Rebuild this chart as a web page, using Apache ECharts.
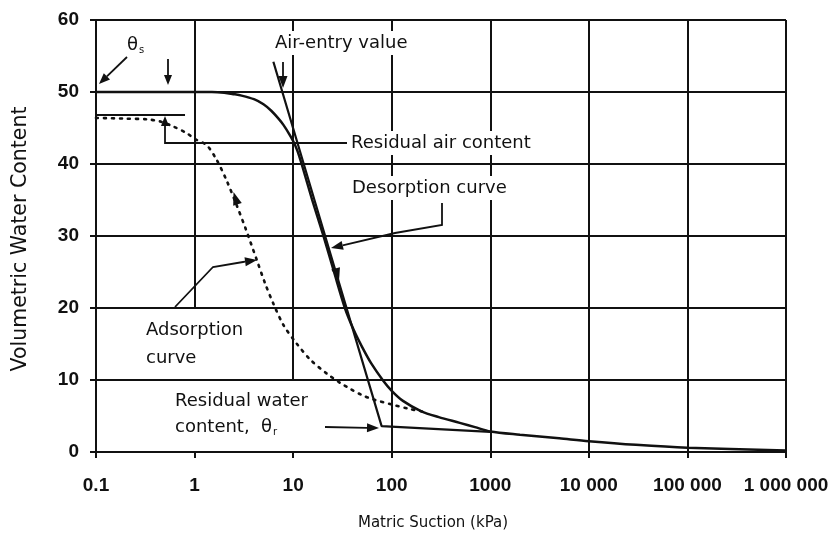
<!DOCTYPE html>
<html>
<head>
<meta charset="utf-8">
<script src="https://cdn.jsdelivr.net/npm/echarts@6/dist/echarts.min.js"></script>
<style>html,body{margin:0;background:#fff}#chart{width:834px;height:533px}</style>
</head>
<body>
<div id="chart"></div>
<script>
// axes
var suctionTickLabels = ['0.1', '1', '10', '100', '1000', '10 000', '100 000', '1 000 000'];
var waterMin = 0, waterMax = 60, waterStep = 10;

// vertical grid lines (decades) and the water content they start from
var decadeLines = [1, 10, 100, 1000, 10000, 100000, 1000000];
var decadeLineFrom = [20, 10, 0, 0, 0, 0, 0];

// desorption curve
var desorpSuction = [0.1, 1, 1.5, 2, 2.5, 3, 4, 5, 6, 7, 8, 9, 10, 11, 12.2, 15.6, 20.3, 26, 33.5, 41, 50, 62, 82, 100, 130, 200, 300, 490, 700, 1000, 2000, 5000, 10000, 30000, 100000, 1000000];
var desorpWater   = [50, 50, 50, 49.9, 49.7, 49.5, 49.0, 48.3, 47.4, 46.4, 45.4, 44.3, 43.2, 41.9, 40, 35, 30, 25, 20, 17, 14.6, 12.3, 9.9, 8.5, 7.1, 5.65, 4.85, 4.05, 3.45, 2.85, 2.4, 1.9, 1.5, 1.0, 0.6, 0.2];

// straight construction lines (air-entry tangent and residual line)
var tangentSuction = [6.3, 79, 1000];
var tangentWater   = [54.2, 3.6, 2.8];

// adsorption curve (dotted)
var adsorpSuction = [0.1, 0.2, 0.33, 0.45, 0.61, 0.83, 1.0, 1.33, 1.67, 2.1, 2.67, 3.3, 4.27, 5.2, 6.3, 8, 10.8, 15, 21.9, 30, 37.7, 50, 65, 100, 150, 210];
var adsorpWater   = [46.4, 46.3, 46.2, 45.9, 45.2, 44.3, 43.5, 42.6, 40.6, 37.8, 34.3, 31, 26.7, 23.4, 20.6, 17.6, 15.1, 12.8, 10.9, 9.6, 8.8, 7.9, 7.3, 6.6, 6.0, 5.6];

// short level line of the adsorption start
var adsorpLevelSuction = [0.1, 0.8];
var adsorpLevelWater   = [46.8, 46.8];

function zip(a, b) { return a.map(function (v, i) { return [v, b[i]]; }); }

var chart = echarts.init(document.getElementById('chart'));
var ink = '#111';
var fontAnno = '"DejaVu Sans", sans-serif';

// polyline with an arrow head at its last point
function arrow(pts, len, wid) {
    len = len || 11; wid = wid || 4.5;
    var n = pts.length, tip = pts[n - 1], prev = pts[n - 2];
    var dx = tip[0] - prev[0], dy = tip[1] - prev[1], d = Math.sqrt(dx * dx + dy * dy);
    var ux = dx / d, uy = dy / d;
    var base = [tip[0] - ux * len, tip[1] - uy * len];
    var line = pts.slice(0, n - 1).concat([base]);
    return [
        { type: 'polyline', shape: { points: line }, style: { stroke: ink, lineWidth: 1.8, fill: null } },
        { type: 'polygon', shape: { points: [tip, [base[0] - uy * wid, base[1] + ux * wid], [base[0] + uy * wid, base[1] - ux * wid]] }, style: { fill: ink } }
    ];
}
function label(x, y, text, extra) {
    var s = { text: text, fill: ink, font: '18px ' + fontAnno, align: 'left', verticalAlign: 'middle',
              backgroundColor: '#fff', padding: [3, 3] };
    for (var k in extra) s[k] = extra[k];
    return { type: 'text', x: x, y: y, z: 10, style: s };
}

var graphics = [];
graphics = graphics.concat(arrow([[127, 57], [99, 84]]));
graphics = graphics.concat(arrow([[168, 59], [168, 85]], 10, 4));
graphics = graphics.concat(arrow([[347, 143], [165, 143], [165, 116]], 10, 4));
graphics = graphics.concat(arrow([[283, 62], [283, 88]], 12, 4.5));
graphics = graphics.concat(arrow([[442, 203], [442, 225], [395, 233], [331, 248]], 12, 4.5));
graphics = graphics.concat(arrow([[175, 307], [213, 267], [243, 262], [257, 260]], 12, 4.5));
graphics = graphics.concat(arrow([[325, 427], [379, 428]], 12, 4.5));
// direction heads on the curves
graphics = graphics.concat(arrow([[335.5, 268], [339, 281]], 13, 4.5).slice(1));
graphics = graphics.concat(arrow([[238, 206], [233.5, 192]], 13, 4.5).slice(1));
graphics.push(
    { type: 'text', x: 127, y: 45, style: { text: 'θ{s|s}', fill: ink, font: '18px ' + fontAnno, verticalAlign: 'middle',
        rich: { s: { fontSize: 10, fontFamily: 'DejaVu Sans', padding: [10, 0, 0, 1] } } } },
    label(272, 43, 'Air-entry value'),
    label(348, 143, 'Residual air content'),
    label(349, 188, 'Desorption curve'),
    label(143, 330, 'Adsorption'),
    label(143, 358, 'curve', { backgroundColor: null }),
    label(172, 401, 'Residual water'),
    { type: 'text', x: 175, y: 427, z: 10, style: { text: 'content,  θ{r|r}', fill: ink, font: '18px ' + fontAnno, verticalAlign: 'middle',
        rich: { r: { fontSize: 10, fontFamily: 'DejaVu Sans', padding: [10, 0, 0, 1] } } } },
    { type: 'text', x: 21, y: 239, rotation: Math.PI / 2,
      style: { text: 'Volumetric Water Content', fill: ink, font: '20.5px ' + fontAnno, align: 'center', verticalAlign: 'middle' } },
    { type: 'text', x: 433, y: 523,
      style: { text: 'Matric Suction (kPa)', fill: ink, font: '15px ' + fontAnno, align: 'center', verticalAlign: 'middle' } }
);

var gridSegments = decadeLines.map(function (v, i) {
    return [{ coord: [v, decadeLineFrom[i]] }, { coord: [v, waterMax] }];
});

var option = {
    animation: false,
    backgroundColor: '#fff',
    grid: { left: 96, right: 48, top: 20, bottom: 81 },
    xAxis: {
        type: 'log', logBase: 10, min: 0.1, max: 1000000, splitNumber: 7,
        axisLine: { lineStyle: { color: ink, width: 2 } },
        axisTick: { length: 6, lineStyle: { color: ink, width: 2 } },
        splitLine: { show: false },
        axisLabel: {
            margin: 24, color: ink, fontSize: 19, fontWeight: 'bold', fontFamily: 'Liberation Sans, Arial',
            showMinLabel: true, showMaxLabel: true,
            formatter: function (v) { return suctionTickLabels[Math.round(Math.log10(v)) + 1]; }
        }
    },
    yAxis: {
        type: 'value', min: waterMin, max: waterMax, interval: waterStep,
        axisLine: { show: true, lineStyle: { color: ink, width: 2 } },
        axisTick: { show: true, length: 6, lineStyle: { color: ink, width: 2 } },
        splitLine: { lineStyle: { color: ink, width: 2 } },
        axisLabel: { margin: 17, color: ink, fontSize: 19, fontWeight: 'bold', fontFamily: 'Liberation Sans, Arial' }
    },
    series: [
        {
            name: 'grid', type: 'line', data: [], silent: true,
            markLine: { silent: true, symbol: 'none', label: { show: false },
                lineStyle: { color: ink, width: 2, type: 'solid' }, data: gridSegments }
        },
        {
            name: 'Desorption curve', type: 'line', data: zip(desorpSuction, desorpWater),
            smooth: 0.3, showSymbol: false, z: 5,
            lineStyle: { color: ink, width: 2.5 }
        },
        {
            name: 'Tangent', type: 'line', data: zip(tangentSuction, tangentWater),
            showSymbol: false, z: 5, lineStyle: { color: ink, width: 2.2 }
        },
        {
            name: 'Adsorption curve', type: 'line', data: zip(adsorpSuction, adsorpWater),
            smooth: 0.3, showSymbol: false, z: 5,
            lineStyle: { color: ink, width: 2.6, type: [2, 6], cap: 'round' }
        },
        {
            name: 'Adsorption level', type: 'line', data: zip(adsorpLevelSuction, adsorpLevelWater),
            showSymbol: false, z: 5, lineStyle: { color: ink, width: 2 }
        }
    ],
    graphic: graphics
};
chart.setOption(option);
</script>
</body>
</html>
